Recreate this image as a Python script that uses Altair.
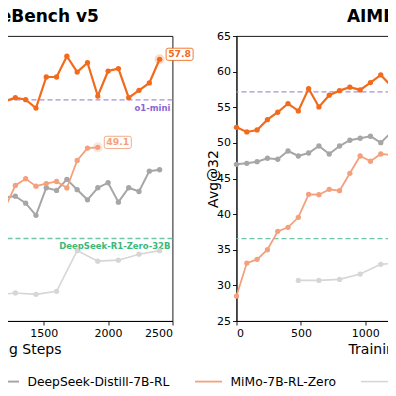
import altair as alt
import pandas as pd

SERIES = ["MiMo-7B-RL", "DeepSeek-Distill-7B-RL", "MiMo-7B-RL-Zero", "Qwen2.5-32B-RL-Zero"]
COLORS = ["#f26b1d", "#a6a6a6", "#f4a07c", "#d6d6d6"]
WIDTHS = [2.2, 1.6, 1.6, 1.6]

# ---- LiveCodeBench v5 (left panel, visible part) ----
lcb_steps80 = list(range(1120, 2401, 80))
lcb_rl = [54.1, 53.65, 54.01, 53.81, 52.98, 56.05, 56.05, 58.10, 56.54, 57.47,
          54.17, 56.64, 56.88, 54.01, 54.73, 55.46, 57.8]
lcb_distill = [44.4, 44.18, 44.28, 43.59, 42.39, 45.11, 44.85, 45.94, 44.92, 43.92,
               45.11, 45.61, 43.69, 45.11, 44.74, 46.75, 46.89]
lcb_zero_steps = list(range(1120, 1921, 80))
lcb_zero = [43.65, 43.13, 45.34, 46.0, 45.27, 45.52, 45.73, 45.09, 47.81, 49.03, 49.1]
lcb_qwen_steps = list(range(1120, 2401, 160))
lcb_qwen = [34.5, 34.72, 34.58, 34.88, 38.9, 37.86, 37.96, 38.55, 38.9]

# ---- AIME 2025 (right panel, visible part) ----
aime_steps80 = list(range(0, 1281, 80))
aime_rl = [52.19, 51.53, 51.81, 53.26, 54.30, 55.51, 54.48, 57.61, 55.04, 56.69,
           57.33, 57.81, 57.43, 58.46, 59.54, 57.99, 58.6]
aime_distill = [46.99, 47.13, 47.36, 47.84, 47.70, 48.86, 48.16, 48.58, 49.56, 48.44,
                49.56, 50.37, 50.65, 50.93, 50.03, 51.43, 51.2]
aime_zero = [28.5, 33.13, 33.65, 35.0, 37.58, 38.15, 39.55, 42.78, 42.73, 43.48,
             43.29, 45.73, 48.16, 47.42, 48.44, 48.30, 48.6]
aime_qwen_steps = list(range(480, 1281, 160))
aime_qwen = [30.70, 30.70, 30.84, 31.59, 32.95, 33.2]

REF_NAMES = ["o1-mini", "DeepSeek-R1-Zero-32B"]
REF_LINE_COLORS = ["#a88fdc", "#6cc7a2"]
REF_TEXT_COLORS = ["#8b66d6", "#3cb878"]
lcb_refs = [53.8, 40.1]
aime_refs = [57.15, 36.55]

TITLES = ["LiveCodeBench v5", "AIME 2025"]
LEFT_X_TICKS = [500, 1000, 1500, 2000, 2500]
RIGHT_X_TICKS = [0, 500, 1000, 1500, 2000]
X_MAX = 2500
FONT = "DejaVu Sans"


def frame(parts):
    rows = []
    for name, steps, vals in parts:
        for s, v in zip(steps, vals):
            rows.append({"series": name, "step": s, "value": v})
    return pd.DataFrame(rows)


lcb_df = frame([(SERIES[0], lcb_steps80, lcb_rl), (SERIES[1], lcb_steps80, lcb_distill),
                (SERIES[2], lcb_zero_steps, lcb_zero), (SERIES[3], lcb_qwen_steps, lcb_qwen)])
aime_df = frame([(SERIES[0], aime_steps80, aime_rl), (SERIES[1], aime_steps80, aime_distill),
                 (SERIES[2], aime_steps80, aime_zero), (SERIES[3], aime_qwen_steps, aime_qwen)])

lcb_marks = pd.DataFrame({
    "series": [SERIES[0], SERIES[2]],
    "step": [lcb_steps80[-1], lcb_zero_steps[-1]],
    "value": [lcb_rl[-1], lcb_zero[-1]],
    "label": [f"{lcb_rl[-1]:.1f}", f"{lcb_zero[-1]:.1f}"],
})

color_scale = alt.Scale(domain=SERIES, range=COLORS)
BOX = ("M -0.85,-0.45 L 0.85,-0.45 Q 1,-0.45 1,-0.3 L 1,0.3 Q 1,0.45 0.85,0.45 "
       "L -0.85,0.45 Q -1,0.45 -1,0.3 L -1,-0.3 Q -1,-0.45 -0.85,-0.45 Z")


def panel(df, refs, title, ydomain, yaxis, xticks, marks=None, legend=False):
    x = alt.X("step:Q", scale=alt.Scale(domain=[0, X_MAX], nice=False),
              axis=alt.Axis(values=xticks, format="d", title="Training Steps", titleY=32,
                            titleBaseline="alphabetic"))
    y = alt.Y("value:Q", scale=alt.Scale(domain=ydomain, nice=False, zero=False), axis=yaxis)
    layers = []
    for name, v, lc, tc in zip(REF_NAMES, refs, REF_LINE_COLORS, REF_TEXT_COLORS):
        rdf = pd.DataFrame({"step": [X_MAX], "value": [v], "name": [name]})
        rc = alt.Chart(rdf)
        layers.append(rc.mark_rule(color=lc, strokeDash=[5, 3], strokeWidth=1.3)
                      .encode(y=y))
        layers.append(rc.mark_text(color=tc, fontWeight="bold", fontSize=8.5,
                                   align="right", baseline="alphabetic", dx=-2, dy=11)
                      .encode(x=x, y=y, text="name:N"))
    leg = None
    if legend:
        leg = alt.Legend(orient="none", legendX=6, legendY=330.5, direction="horizontal",
                         columns=4, columnPadding=21, symbolType="stroke", symbolSize=729,
                         symbolStrokeWidth=2, labelFontSize=12.3, labelOffset=7, title=None,
                         labelLimit=400, labelColor="black")
    base = alt.Chart(df)
    layers.append(base.mark_line().encode(
        x=x, y=y, color=alt.Color("series:N", scale=color_scale, legend=leg),
        strokeWidth=alt.StrokeWidth("series:N", scale=alt.Scale(domain=SERIES, range=WIDTHS), legend=None)))
    layers.append(base.mark_circle(size=28, opacity=1).encode(
        x=x, y=y, color=alt.Color("series:N", scale=color_scale, legend=None)))
    if marks is not None:
        mb = alt.Chart(marks)
        layers.append(mb.mark_circle(size=100, opacity=0.25).encode(
            x=x, y=y, color=alt.Color("series:N", scale=color_scale, legend=None)))
        layers.append(mb.mark_point(shape=BOX, size=729, filled=False, fill="white",
                                    strokeWidth=0.9, opacity=1, xOffset=20, yOffset=-5).encode(
            x=x, y=y, color=alt.Color("series:N", scale=color_scale, legend=None)))
        layers.append(mb.mark_text(fontWeight="bold", fontSize=9.3, dx=20, dy=-5,
                                   baseline="middle", align="center").encode(
            x=x, y=y, text="label:N", color=alt.Color("series:N", scale=color_scale, legend=None)))
    tdf = pd.DataFrame({"t": [title]})
    layers.append(alt.Chart(tdf).mark_text(fontSize=17, fontWeight="bold", font=FONT,
                                           baseline="alphabetic", align="center", color="black")
                  .encode(x=alt.datum(X_MAX / 2), y=alt.value(-14), text="t:N"))
    return alt.layer(*layers).properties(width=322, height=285)


left = panel(lcb_df, lcb_refs, TITLES[0], [31.95, 60.1], None, LEFT_X_TICKS,
             marks=lcb_marks, legend=True)
right = panel(aime_df, aime_refs, TITLES[1], [25, 65],
              alt.Axis(values=[25, 30, 35, 40, 45, 50, 55, 60, 65], title="Avg@32",
                       titleX=-19, titleY=142.5, titleBaseline="alphabetic", titleAngle=-90),
              RIGHT_X_TICKS)

chart = alt.hconcat(left, right, spacing=64, bounds="flush").properties(
    padding={"left": -159.5, "top": -1, "right": -172.5, "bottom": 10}
).configure(font=FONT).configure_view(stroke="black", strokeWidth=0.9).configure_axis(
    grid=False, labelFont=FONT, labelFontSize=11, labelColor="black", labelPadding=2,
    tickColor="black", tickSize=4, tickWidth=0.9, domainColor="black", domainWidth=0.9,
    titleFont=FONT, titleFontSize=14, titleFontWeight="normal", titleColor="black"
).configure_legend(labelFont=FONT)

chart.save("out.html", embed_options={"renderer": "svg", "actions": False})
